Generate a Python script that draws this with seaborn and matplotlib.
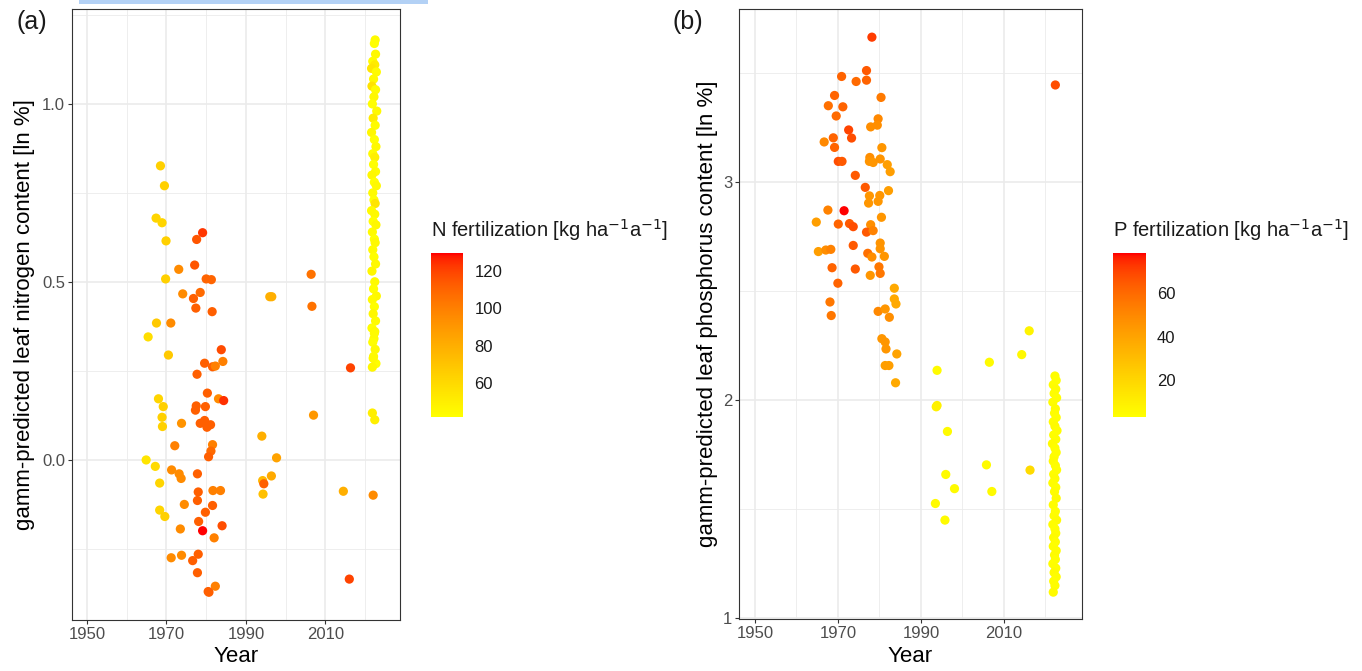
import numpy as np
import pandas as pd
import matplotlib
matplotlib.use("Agg")
import matplotlib.pyplot as plt
import seaborn as sns
from matplotlib.colors import LinearSegmentedColormap, Normalize
from matplotlib.cm import ScalarMappable
from matplotlib.patches import Rectangle

# ---------------- nitrogen panel ----------------
n_year = [1968.5, 1969.5, 1967.4, 1968.9, 1979.1, 1977.6, 1969.9, 1977.1, 1973.1, 1969.8,
          1980.0, 1981.3, 1974.1, 1978.5, 1976.8, 1977.4, 1981.5, 1967.5, 1971.1, 1965.4,
          1970.5, 1983.8, 1979.6, 1981.6, 1982.3, 1984.2, 1977.7, 1980.3, 1968.0, 1983.1,
          1984.4, 1969.2, 1977.5, 1979.8, 1977.3, 1968.9, 1973.8, 1978.5, 1979.6, 1981.1,
          1980.2, 1969.0, 1972.1, 1981.6, 1981.2, 1980.6, 1964.9, 1967.2, 1971.3, 1973.2,
          1973.7, 1977.8, 1968.3, 1978.0, 1981.7, 1983.6, 1977.8, 1974.5, 1981.6, 1968.3,
          1969.6, 1979.8, 1978.1, 1984.0, 1979.1, 1973.5, 1982.0, 1971.2, 1973.8, 1978.0,
          1976.6, 1977.8, 1982.3, 1980.5, 1980.7,
          1994.0, 1997.7, 1994.2, 1996.4, 1994.5, 1994.3, 2007.0, 2014.5, 2016.0, 2016.3,
          2006.4, 2006.6, 1996.0, 1996.5, 2022.0, 2021.8, 2022.4,
          2022.5, 2022.3, 2022.6, 2021.9, 2022.4, 2021.6, 2022.8, 2022.1, 2021.7, 2022.6,
          2022.2, 2021.8, 2022.9, 2022.0, 2022.5, 2021.6, 2022.3, 2022.7, 2021.9, 2022.4,
          2022.1, 2022.6, 2021.7, 2022.3, 2022.8, 2021.9, 2022.2, 2022.5, 2021.6, 2022.4,
          2022.0, 2022.7, 2021.8, 2022.3, 2022.5, 2021.9, 2022.2, 2022.6, 2021.7, 2022.4,
          2022.1, 2022.8, 2021.8, 2022.3, 2022.0, 2022.6, 2021.7, 2022.4, 2022.2, 2021.9,
          2022.5, 2022.1, 2022.7, 2021.8, 2022.3, 2022.0]
n_leaf = [0.826, 0.770, 0.679, 0.666, 0.638, 0.619, 0.615, 0.547, 0.535, 0.508,
          0.508, 0.506, 0.466, 0.470, 0.453, 0.426, 0.416, 0.384, 0.384, 0.345,
          0.294, 0.309, 0.271, 0.261, 0.263, 0.276, 0.240, 0.187, 0.171, 0.171,
          0.166, 0.149, 0.151, 0.149, 0.139, 0.119, 0.102, 0.102, 0.110, 0.098,
          0.091, 0.093, 0.039, 0.042, 0.024, 0.008, -0.001, -0.019, -0.029, -0.040,
          -0.053, -0.040, -0.066, -0.091, -0.087, -0.087, -0.115, -0.126, -0.129, -0.142,
          -0.160, -0.148, -0.174, -0.186, -0.200, -0.195, -0.220, -0.276, -0.269, -0.266,
          -0.284, -0.318, -0.356, -0.371, -0.373,
          0.066, 0.005, -0.059, -0.046, -0.068, -0.097, 0.125, -0.089, -0.336, 0.258,
          0.521, 0.431, 0.458, 0.458, -0.100, 0.131, 0.112,
          1.18, 1.17, 1.14, 1.12, 1.11, 1.10, 1.09, 1.07, 1.05, 1.04,
          1.02, 1.00, 0.98, 0.96, 0.94, 0.92, 0.90, 0.88, 0.86, 0.85,
          0.83, 0.81, 0.80, 0.78, 0.77, 0.75, 0.73, 0.72, 0.70, 0.69,
          0.67, 0.66, 0.64, 0.62, 0.61, 0.59, 0.57, 0.55, 0.53, 0.50,
          0.48, 0.46, 0.45, 0.43, 0.41, 0.39, 0.37, 0.36, 0.34, 0.33,
          0.31, 0.29, 0.27, 0.26, 0.355, 0.285]
n_fert = [65, 65, 62, 62, 123, 115, 65, 115, 95, 65,
          110, 110, 95, 108, 112, 112, 112, 68, 95, 58,
          68, 118, 112, 112, 100, 100, 112, 112, 62, 95,
          124, 65, 112, 112, 112, 65, 92, 112, 112, 112,
          112, 65, 100, 100, 108, 112, 55, 60, 95, 95,
          95, 112, 62, 112, 100, 100, 112, 95, 112, 62,
          65, 112, 112, 117, 129.4, 95, 100, 95, 95, 112,
          112, 112, 100, 112, 112,
          80, 85, 75, 82, 112, 72, 90, 80, 120, 120,
          105, 105, 80, 80, 95, 50, 50,
          44, 43, 45, 44, 52, 55, 44, 45, 56, 44,
          46, 43, 45, 52, 44, 46, 43, 45, 44, 50,
          43, 44, 46, 43, 45, 44, 43, 55, 44, 45,
          43, 46, 44, 42.2, 45, 44, 43, 45, 46, 44,
          43, 45, 44, 43, 46, 44, 43, 45, 44, 43,
          45, 44, 43, 46, 44, 45]

# ---------------- phosphorus panel ----------------
p_year = [1978.2, 1976.9, 1970.9, 1974.4, 1976.9, 1969.2, 1980.4, 1967.7, 1971.2, 1969.6,
          1979.7, 1977.9, 1979.5, 1972.6, 1973.3, 1968.9, 1966.7, 1969.2, 1980.6, 1977.7,
          1977.6, 1978.5, 1980.2, 1981.9, 1982.6, 1970.1, 1971.0, 1974.2, 1976.6, 1982.2,
          1977.6, 1980.1, 1977.4, 1979.7, 1967.6, 1971.5, 1980.5, 1964.8, 1970.1, 1972.8,
          1977.9, 1973.7, 1976.9, 1978.5, 1965.3, 1967.1, 1968.3, 1973.7, 1980.2, 1980.2,
          1977.2, 1978.2, 1981.2, 1968.6, 1974.2, 1979.9, 1980.2, 1977.8, 1970.0, 1983.6,
          1983.6, 1984.0, 1968.1, 1968.4, 1979.7, 1981.4, 1982.4, 1980.6, 1981.4, 1981.6,
          1984.2, 1981.4, 1982.3, 1983.9,
          2016.1, 2014.3, 2006.5, 1993.9, 1993.9, 1993.7, 1996.4, 2005.8, 2016.3, 1996.0,
          1998.1, 2007.1, 1993.5, 1995.8, 2022.4,
          2022.3, 2022.6, 2021.9, 2022.5, 2022.1, 2022.7, 2021.8, 2022.4, 2022.2, 2022.6,
          2021.9, 2022.3, 2022.8, 2022.0, 2022.5, 2021.7, 2022.3, 2022.6, 2022.1, 2021.9,
          2022.4, 2022.7, 2022.0, 2022.3, 2021.8, 2022.5, 2022.2, 2022.6, 2021.9, 2022.4,
          2022.1, 2022.7, 2021.8, 2022.3, 2022.5, 2022.0, 2022.4, 2021.9, 2022.6, 2022.2,
          2022.4, 2021.8, 2022.5, 2022.1, 2022.6, 2022.0, 2022.3, 2021.9]
p_leaf = [3.662, 3.509, 3.482, 3.459, 3.465, 3.395, 3.386, 3.348, 3.343, 3.301,
          3.288, 3.251, 3.259, 3.237, 3.200, 3.201, 3.182, 3.157, 3.156, 3.111,
          3.093, 3.088, 3.104, 3.078, 3.046, 3.093, 3.093, 3.029, 2.974, 2.959,
          2.935, 2.937, 2.902, 2.910, 2.870, 2.867, 2.837, 2.815, 2.806, 2.808,
          2.803, 2.794, 2.769, 2.776, 2.680, 2.687, 2.690, 2.708, 2.719, 2.693,
          2.672, 2.655, 2.658, 2.606, 2.600, 2.610, 2.580, 2.571, 2.535, 2.512,
          2.463, 2.440, 2.449, 2.387, 2.406, 2.417, 2.379, 2.281, 2.266, 2.234,
          2.211, 2.158, 2.158, 2.079,
          2.317, 2.208, 2.173, 2.136, 1.975, 1.969, 1.856, 1.703, 1.679, 1.659,
          1.594, 1.581, 1.526, 1.450, 3.443,
          2.11, 2.09, 2.07, 2.05, 2.03, 2.01, 1.99, 1.96, 1.94, 1.92,
          1.90, 1.88, 1.86, 1.84, 1.82, 1.80, 1.78, 1.76, 1.74, 1.72,
          1.70, 1.68, 1.66, 1.64, 1.62, 1.60, 1.58, 1.55, 1.52, 1.49,
          1.47, 1.45, 1.43, 1.41, 1.39, 1.37, 1.35, 1.33, 1.31, 1.29,
          1.27, 1.25, 1.23, 1.21, 1.19, 1.17, 1.15, 1.12]
p_fert = [72, 65, 62, 60, 62, 62, 55, 58, 62, 60,
          50, 48, 48, 70, 68, 62, 50, 62, 45, 48,
          46, 45, 46, 42, 42, 68, 65, 65, 65, 42,
          45, 45, 45, 45, 52, 78.5, 45, 42, 62, 65,
          48, 68, 65, 52, 42, 48, 52, 65, 46, 46,
          58, 48, 45, 62, 65, 56, 56, 45, 62, 38,
          38, 38, 56, 56, 50, 45, 48, 45, 45, 45,
          40, 42, 42, 38,
          8, 6, 5, 5, 9, 9, 5, 5, 18, 5,
          5, 5, 5, 5, 68,
          4, 3.05, 4, 5, 4, 3.5, 4, 5, 4, 3.5,
          4, 5, 4, 3.5, 4, 5, 4, 3.5, 4, 5,
          4, 3.5, 4, 5, 4, 3.5, 4, 5, 4, 3.5,
          4, 5, 4, 3.5, 4, 5, 4, 3.5, 4, 5,
          4, 3.5, 4, 5, 4, 3.5, 4, 5]

n_ticks_x = [1950, 1970, 1990, 2010]
n_ticks_y = [0.0, 0.5, 1.0]
p_ticks_y = [1, 2, 3]
n_bar_ticks = [60, 80, 100, 120]
p_bar_ticks = [20, 40, 60]


# yellow -> red gradient interpolated in CIE Lab
def _srgb_to_lab(rgb):
    c = np.asarray(rgb, float)
    lin = np.where(c <= 0.04045, c / 12.92, ((c + 0.055) / 1.055) ** 2.4)
    m = np.array([[0.4124, 0.3576, 0.1805], [0.2126, 0.7152, 0.0722], [0.0193, 0.1192, 0.9505]])
    xyz = m @ lin / np.array([0.95047, 1.0, 1.08883])
    d = 6 / 29
    f = np.where(xyz > d ** 3, np.cbrt(xyz), xyz / (3 * d * d) + 4 / 29)
    return np.array([116 * f[1] - 16, 500 * (f[0] - f[1]), 200 * (f[1] - f[2])])


def _lab_to_srgb(lab):
    L, a, b = lab
    fy_ = (L + 16) / 116
    fx_ = fy_ + a / 500
    fz_ = fy_ - b / 200
    d = 6 / 29
    f = np.array([fx_, fy_, fz_])
    xyz = np.where(f > d, f ** 3, 3 * d * d * (f - 4 / 29)) * np.array([0.95047, 1.0, 1.08883])
    minv = np.linalg.inv(np.array([[0.4124, 0.3576, 0.1805], [0.2126, 0.7152, 0.0722],
                                   [0.0193, 0.1192, 0.9505]]))
    lin = np.clip(minv @ xyz, 0, 1)
    c = np.where(lin <= 0.0031308, 12.92 * lin, 1.055 * lin ** (1 / 2.4) - 0.055)
    return np.clip(c, 0, 1)


lab_lo = _srgb_to_lab([1, 1, 0])
lab_hi = _srgb_to_lab([1, 0, 0])
grad = [_lab_to_srgb(lab_lo + t * (lab_hi - lab_lo)) for t in np.linspace(0, 1, 256)]
yellow_red = LinearSegmentedColormap.from_list("yellow_red", grad)

sns.set_theme(style="white")
plt.rcParams["font.family"] = ["Liberation Sans", "DejaVu Sans"]

W, H = 1362, 671
fig = plt.figure(figsize=(W / 100, H / 100), dpi=100)


def fx(px):
    return px / W


def fy(py):
    return 1 - py / H


def style_axes(ax, yticks, yminor, fmt):
    ax.set_xlim(1946.25, 2028.75)
    ax.set_xticks(n_ticks_x)
    ax.set_xticks([1960, 1980, 2000, 2020], minor=True)
    ax.set_yticks(yticks)
    ax.set_yticks(yminor, minor=True)
    ax.set_yticklabels([fmt.format(v) for v in yticks])
    ax.grid(which="major", color="#EBEBEB", lw=1.2)
    ax.grid(which="minor", color="#EBEBEB", lw=0.6)
    ax.set_axisbelow(True)
    for s in ax.spines.values():
        s.set_color("#333333")
        s.set_linewidth(0.8)
    ax.tick_params(which="major", length=3, width=0.8, color="#333333",
                   labelsize=12, labelcolor="#4D4D4D", pad=2,
                   bottom=True, left=True)
    ax.tick_params(which="minor", length=0)


def add_colorbar(left_px, vmin, vmax, ticks, title):
    cax = fig.add_axes([fx(left_px), fy(416.7), fx(32.4), (416.7 - 253.3) / H])
    sm = ScalarMappable(norm=Normalize(vmin, vmax), cmap=yellow_red)
    cb = fig.colorbar(sm, cax=cax, ticks=ticks)
    cb.outline.set_visible(False)
    cax.tick_params(axis="y", which="major", direction="in", length=4, width=0.8,
                    color="white", left=True, right=True, labelsize=12,
                    labelcolor="#1A1A1A", pad=8)
    cax.yaxis.set_tick_params(which="minor", length=0)
    fig.text(fx(left_px), fy(230), title, fontsize=14.5, va="center", ha="left", color="#1A1A1A")


# panel (a)
ax1 = fig.add_axes([fx(72), fy(620), fx(328), (620 - 9) / H])
df_n = pd.DataFrame({"Year": n_year, "leaf": n_leaf, "fert": n_fert})
sns.scatterplot(data=df_n, x="Year", y="leaf", hue="fert", palette=yellow_red,
                hue_norm=(min(n_fert), max(n_fert)), s=44, linewidth=0,
                legend=False, ax=ax1)
ax1.set_ylim(-0.451, 1.267)
style_axes(ax1, n_ticks_y, [-0.25, 0.25, 0.75, 1.25], "{:.1f}")
ax1.set_xlabel("Year", fontsize=16, color="black")
ax1.xaxis.set_label_coords(0.5, (620 - 657) / 611)
ax1.xaxis.label.set_verticalalignment("center")
ax1.set_ylabel("gamm-predicted leaf nitrogen content [ln %]", fontsize=16, color="black")
ax1.yaxis.set_label_coords((25 - 72) / 328, 0.5)
ax1.yaxis.label.set_verticalalignment("center")

# panel (b)
ax2 = fig.add_axes([fx(739.3), fy(619), fx(1081.7 - 739.3), (619 - 9) / H])
df_p = pd.DataFrame({"Year": p_year, "leaf": p_leaf, "fert": p_fert})
sns.scatterplot(data=df_p, x="Year", y="leaf", hue="fert", palette=yellow_red,
                hue_norm=(min(p_fert), max(p_fert)), s=44, linewidth=0,
                legend=False, ax=ax2)
ax2.set_ylim(0.997, 3.791)
style_axes(ax2, p_ticks_y, [1.5, 2.5, 3.5], "{:d}")
ax2.set_xlabel("Year", fontsize=16, color="black")
ax2.xaxis.set_label_coords(0.5, (619 - 657) / 610)
ax2.xaxis.label.set_verticalalignment("center")
ax2.set_ylabel("gamm-predicted leaf phosphorus content [ln %]", fontsize=16, color="black")
ax2.yaxis.set_label_coords((707 - 739.3) / 342.4, 0.5)
ax2.yaxis.label.set_verticalalignment("center")

add_colorbar(431, min(n_fert), max(n_fert), n_bar_ticks,
             r"N fertilization [kg ha$^{-1}$a$^{-1}$]")
add_colorbar(1113.3, min(p_fert), max(p_fert), p_bar_ticks,
             r"P fertilization [kg ha$^{-1}$a$^{-1}$]")

fig.text(fx(17), fy(22), "(a)", fontsize=18, va="center", ha="left", color="#1A1A1A")
fig.text(fx(672), fy(22), "(b)", fontsize=18, va="center", ha="left", color="#1A1A1A")

# thin highlight strip along the top edge
fig.add_artist(Rectangle((fx(79), fy(4)), fx(349), 4 / H, transform=fig.transFigure,
                         facecolor="#B3D1F5", edgecolor="none"))

fig.savefig("out.png", dpi=100)
